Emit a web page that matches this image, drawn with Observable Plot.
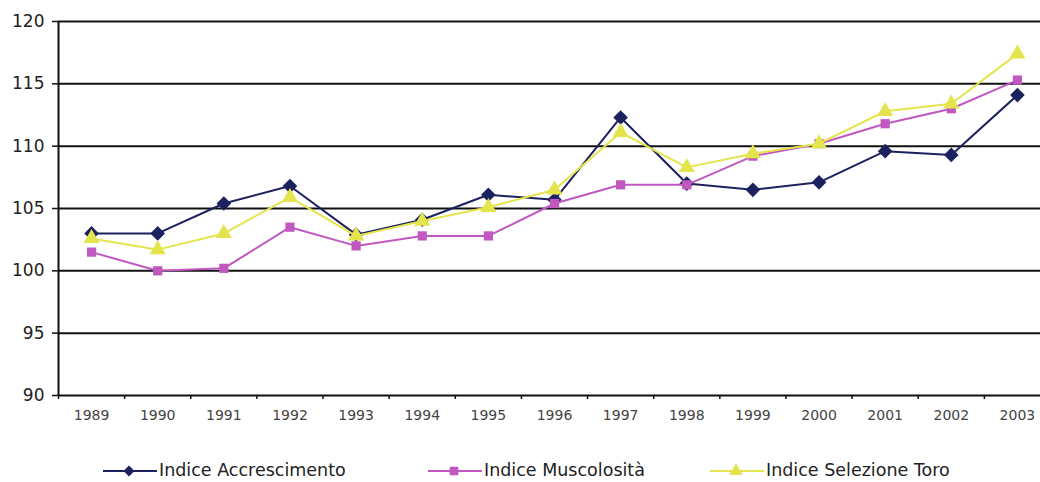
<!DOCTYPE html>
<html>
<head>
<meta charset="utf-8">
<script src="https://cdn.jsdelivr.net/npm/d3@7"></script>
<script src="https://cdn.jsdelivr.net/npm/@observablehq/plot@0.6"></script>
<style>
  html, body { margin: 0; padding: 0; background: #fff; }
  #wrap { width: 1040px; height: 482px; position: relative; overflow: hidden; font-family: "DejaVu Sans", Verdana, sans-serif; }
  #legend { position: absolute; top: 432px; left: 0; width: 1040px; height: 50px; }
  .item { position: absolute; top: 0; height: 50px; display: flex; align-items: center; }
  .item span { font-size: 17.5px; color: #222; margin-left: 2px; padding-top: 28px; line-height: 1; }
  .item svg { margin-top: 28px; }
</style>
</head>
<body>
<div id="wrap"><div id="chart"></div><div id="legend"></div></div>
<script>
const years = [1989, 1990, 1991, 1992, 1993, 1994, 1995, 1996, 1997, 1998, 1999, 2000, 2001, 2002, 2003];
const accrescimento = [103.0, 103.0, 105.4, 106.8, 102.9, 104.1, 106.1, 105.7, 112.3, 107.0, 106.5, 107.1, 109.6, 109.3, 114.1];
const muscolosita   = [101.5, 100.0, 100.2, 103.5, 102.0, 102.8, 102.8, 105.4, 106.9, 106.9, 109.2, 110.2, 111.8, 113.0, 115.3];
const selezione     = [102.6, 101.7, 103.0, 105.9, 102.8, 104.0, 105.1, 106.5, 111.1, 108.3, 109.4, 110.2, 112.8, 113.4, 117.4];
const yTicks = [90, 95, 100, 105, 110, 115, 120];
const seriesNames = ["Indice Accrescimento", "Indice Muscolosità", "Indice Selezione Toro"];
const seriesValues = [accrescimento, muscolosita, selezione];
const colors = ["#1c2160", "#c058c0", "#e4e44c"];
const symbols = ["diamond2", "square", "triangle"];
const symbolR = [6.6, 5.2, 6.0];

const rows = seriesNames.flatMap((s, i) => years.map((y, j) => ({series: s, year: y, value: seriesValues[i][j]})));
const boundaries = years.map(y => y - 0.5).concat([years[years.length - 1] + 0.5]);

const marks = [
  Plot.ruleY(yTicks.slice(1), {stroke: "#111", strokeWidth: 2}),
  Plot.ruleY([yTicks[0]], {stroke: "#111", strokeWidth: 2}),
  Plot.ruleX([boundaries[0]], {stroke: "#111", strokeWidth: 2}),
  Plot.axisY({ticks: yTicks, label: null, tickSize: 6, tickPadding: 8, fontSize: 17, tickFormat: d => String(d), fill: "#222", stroke: "#111", strokeWidth: 1.5}),
  Plot.axisX({ticks: boundaries, label: null, tickSize: 4, tickFormat: () => "", stroke: "#111", strokeWidth: 1.5}),
  Plot.axisX({ticks: years, label: null, tickSize: 0, tickPadding: 15, fontSize: 14, tickFormat: d => String(d), fill: "#444"})
];
seriesNames.forEach((s, i) => {
  const d = rows.filter(r => r.series === s);
  marks.push(Plot.line(d, {x: "year", y: "value", stroke: colors[i], strokeWidth: 2}));
  marks.push(Plot.dot(d, {x: "year", y: "value", symbol: () => symbols[i], fill: colors[i], stroke: "none", r: symbolR[i]}));
});

const chart = Plot.plot({
  width: 1040,
  height: 432,
  marginLeft: 58,
  marginRight: 0,
  marginTop: 21,
  marginBottom: 37,
  style: {fontFamily: "'DejaVu Sans', Verdana, sans-serif", background: "#fff", overflow: "hidden"},
  x: {type: "linear", domain: [boundaries[0], boundaries[boundaries.length - 1]], range: [58, 1050], label: null},
  y: {domain: [yTicks[0], yTicks[yTicks.length - 1]], label: null},
  symbol: {type: "identity"},
  marks
});
document.getElementById("chart").appendChild(chart);

// legend
const legendLeft = [103, 428, 710];
const legend = d3.select("#legend");
seriesNames.forEach((s, i) => {
  const item = legend.append("div").attr("class", "item").style("left", legendLeft[i] + "px");
  const sv = item.append("svg").attr("width", 54).attr("height", 14);
  sv.append("line").attr("x1", 0).attr("x2", 54).attr("y1", 7).attr("y2", 7).attr("stroke", colors[i]).attr("stroke-width", 2);
  const symPath = i === 0
    ? "M0,-5.5L5.5,0L0,5.5L-5.5,0Z"
    : d3.symbol(i === 1 ? d3.symbolSquare : d3.symbolTriangle, i === 1 ? 72 : 80)();
  sv.append("path").attr("transform", "translate(26,7)").attr("d", symPath).attr("fill", colors[i]);
  item.append("span").text(s);
});
</script>
</body>
</html>
